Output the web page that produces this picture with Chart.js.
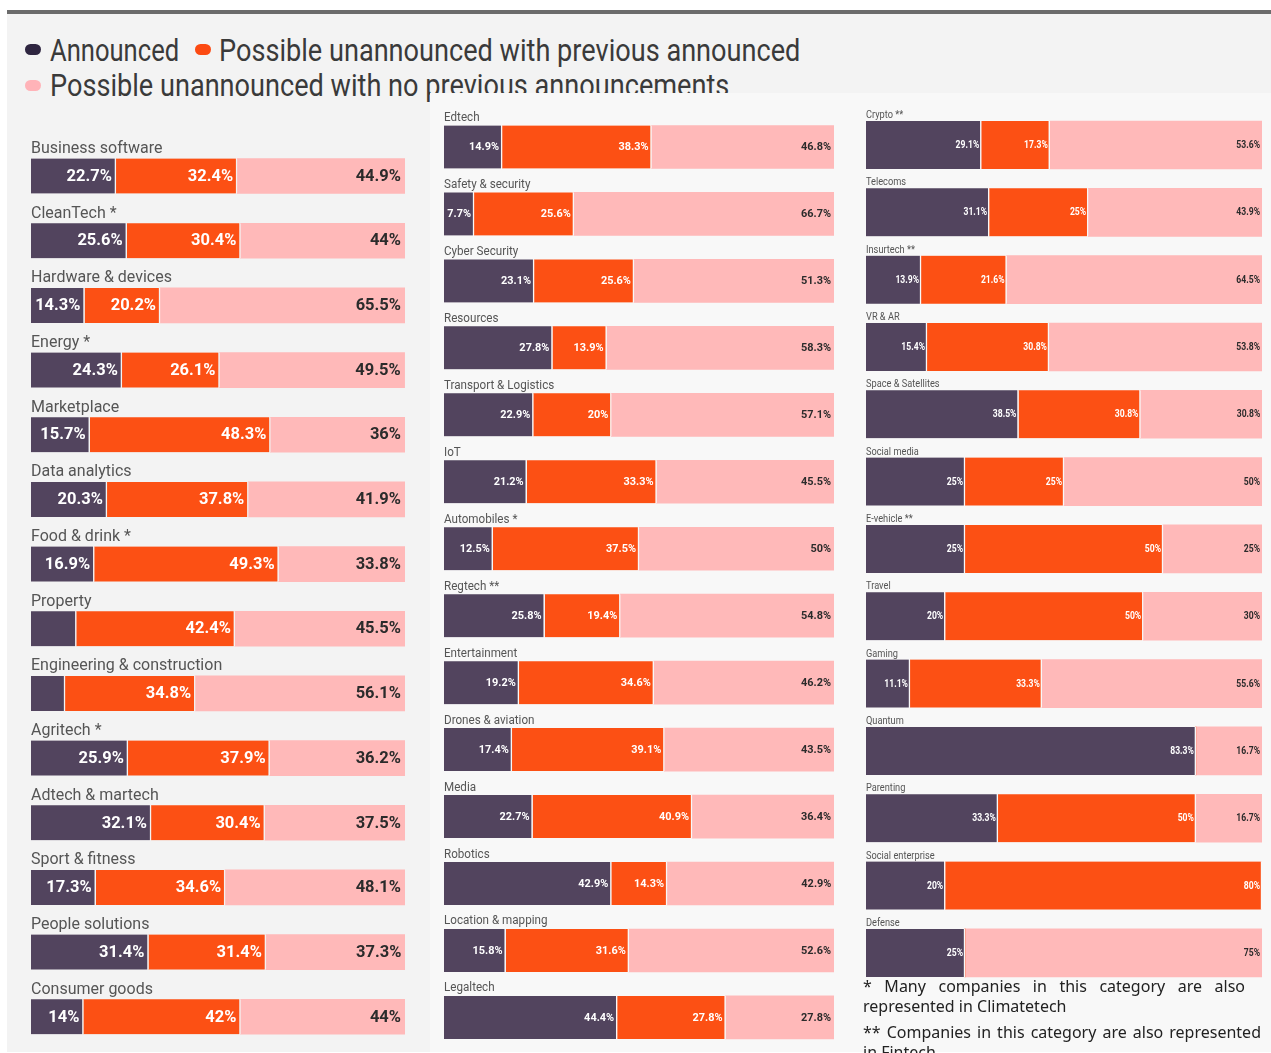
<!DOCTYPE html>
<html>
<head>
<meta charset="utf-8">
<title>Announced vs possible unannounced by category</title>
<script src="https://cdn.jsdelivr.net/npm/chart.js@4.4.1/dist/chart.umd.min.js"></script>
<style>
  html, body { margin: 0; padding: 0; background: #fff; width: 1271px; height: 1053px; overflow: hidden; }
  #panel { position: absolute; left: 7px; top: 10px; width: 1264px; height: 1042px; background: #f3f3f3; border-top: 4px solid #6b6b6b; box-sizing: border-box; }
  #panelRight { position: absolute; left: 430px; top: 93px; width: 841px; height: 959px; background: #f8f8f8; }
  .legend-text { position: absolute; font-family: Roboto, sans-serif; font-size: 31px; line-height: 31px; color: #3a3a3a; white-space: nowrap; transform: scaleX(0.875); transform-origin: left top; }
  .pill { position: absolute; width: 16px; height: 11px; border-radius: 6px; }
  canvas { position: absolute; }
  .note { position: absolute; left: 863px; font-family: "Noto Sans", sans-serif; font-size: 16px; line-height: 20px; color: #222; text-align: justify; margin: 0; }
</style>
</head>
<body>
<div id="panel"></div>

<div class="pill" style="left:25px; top:44px; background:#2e2540;"></div>
<div class="legend-text" style="left:50px; top:35px; transform:scaleX(0.825);">Announced</div>
<div class="pill" style="left:195px; top:44px; background:#fc4a12;"></div>
<div class="legend-text" style="left:219px; top:35px;">Possible unannounced with previous announced</div>
<div class="pill" style="left:25px; top:80px; background:#ffb3b8;"></div>
<div class="legend-text" style="left:50px; top:70px;">Possible unannounced with no previous announcements</div>

<div id="panelRight"></div>

<canvas id="col1" width="374" height="953" style="left:31px; top:100px;"></canvas>
<canvas id="col2" width="390" height="953" style="left:444px; top:100px;"></canvas>
<canvas id="col3" width="396" height="890" style="left:866px; top:100px;"></canvas>

<p class="note" style="top:976px; width:382px;">* Many companies in this category are also represented in Climatetech</p>
<p class="note" style="top:1022px; width:398px;">** Companies in this category are also represented in Fintech</p>

<script>
const colors = { announced: '#52445e', previous: '#fc5014', noPrevious: '#ffb9b9' };

// column 1
const col1Labels = ['Business software', 'CleanTech *', 'Hardware & devices', 'Energy *', 'Marketplace', 'Data analytics',
  'Food & drink *', 'Property', 'Engineering & construction', 'Agritech *', 'Adtech & martech', 'Sport & fitness',
  'People solutions', 'Consumer goods'];
const col1Announced  = [22.7, 25.6, 14.3, 24.3, 15.7, 20.3, 16.9, 12.1, 9.1, 25.9, 32.1, 17.3, 31.4, 14];
const col1Previous   = [32.4, 30.4, 20.2, 26.1, 48.3, 37.8, 49.3, 42.4, 34.8, 37.9, 30.4, 34.6, 31.4, 42];
const col1NoPrevious = [44.9, 44, 65.5, 49.5, 36, 41.9, 33.8, 45.5, 56.1, 36.2, 37.5, 48.1, 37.3, 44];

// column 2
const col2Labels = ['Edtech', 'Safety & security', 'Cyber Security', 'Resources', 'Transport & Logistics', 'IoT',
  'Automobiles *', 'Regtech **', 'Entertainment', 'Drones & aviation', 'Media', 'Robotics', 'Location & mapping', 'Legaltech'];
const col2Announced  = [14.9, 7.7, 23.1, 27.8, 22.9, 21.2, 12.5, 25.8, 19.2, 17.4, 22.7, 42.9, 15.8, 44.4];
const col2Previous   = [38.3, 25.6, 25.6, 13.9, 20, 33.3, 37.5, 19.4, 34.6, 39.1, 40.9, 14.3, 31.6, 27.8];
const col2NoPrevious = [46.8, 66.7, 51.3, 58.3, 57.1, 45.5, 50, 54.8, 46.2, 43.5, 36.4, 42.9, 52.6, 27.8];

// column 3
const col3Labels = ['Crypto **', 'Telecoms', 'Insurtech **', 'VR & AR', 'Space & Satellites', 'Social media',
  'E-vehicle **', 'Travel', 'Gaming', 'Quantum', 'Parenting', 'Social enterprise', 'Defense'];
const col3Announced  = [29.1, 31.1, 13.9, 15.4, 38.5, 25, 25, 20, 11.1, 83.3, 33.3, 20, 25];
const col3Previous   = [17.3, 25, 21.6, 30.8, 30.8, 25, 50, 50, 33.3, 0, 50, 80, 0];
const col3NoPrevious = [53.6, 43.9, 64.5, 53.8, 30.8, 50, 25, 30, 55.6, 16.7, 16.7, 0, 75];

// text squeezed horizontally, to mimic the condensed face of the original
function fillScaled(ctx, text, x, y, sx) {
  ctx.save();
  ctx.translate(x, y);
  ctx.scale(sx, 1);
  ctx.fillText(text, 0, 0);
  ctx.restore();
}

// draws category names above bars and value labels inside segments
const barLabels = {
  id: 'barLabels',
  afterDatasetsDraw(chart, args, opts) {
    const ctx = chart.ctx;
    const yScale = chart.scales.y;
    ctx.save();
    ctx.font = opts.nameFont;
    ctx.fillStyle = opts.nameColor;
    ctx.textAlign = 'left';
    ctx.textBaseline = 'alphabetic';
    chart.data.labels.forEach((name, i) => {
      const y = yScale.getPixelForValue(i) - opts.thickness / 2 - opts.nameGap;
      fillScaled(ctx, name, chart.chartArea.left, y, opts.nameStretch);
    });

    ctx.font = opts.valueFont;
    ctx.textAlign = 'right';
    ctx.textBaseline = 'middle';
    chart.data.datasets.forEach((ds, di) => {
      const meta = chart.getDatasetMeta(di);
      meta.data.forEach((bar, i) => {
        const v = ds.data[i];
        if (!v) return;
        const text = v + '%';
        const w = Math.abs(bar.x - bar.base);
        // skip labels that do not fit in their segment
        if (ctx.measureText(text).width * opts.valueStretch + opts.pad + 1 > w) return;
        ctx.fillStyle = di === 2 ? '#2b2b2b' : '#ffffff';
        fillScaled(ctx, text, bar.x - opts.pad, bar.y + 0.5, opts.valueStretch);
      });
    });
    ctx.restore();
  }
};

function makeColumn(id, labels, announced, previous, noPrevious, style) {
  const gap = { top: 0, bottom: 0, left: 0, right: 1.5 };
  new Chart(document.getElementById(id), {
    type: 'bar',
    data: {
      labels: labels,
      datasets: [
        { label: 'Announced', data: announced, backgroundColor: colors.announced, borderColor: style.bg, borderWidth: gap },
        { label: 'Possible unannounced with previous announced', data: previous, backgroundColor: colors.previous, borderColor: style.bg, borderWidth: gap },
        { label: 'Possible unannounced with no previous announcements', data: noPrevious, backgroundColor: colors.noPrevious, borderWidth: 0 }
      ]
    },
    options: {
      indexAxis: 'y',
      responsive: false,
      animation: false,
      layout: { padding: { top: style.padTop, bottom: style.padBottom, left: 0, right: 0 } },
      datasets: { bar: { barThickness: style.thickness, borderSkipped: false } },
      scales: {
        x: { stacked: true, min: 0, max: 100, display: false },
        y: { stacked: true, display: false }
      },
      plugins: {
        legend: { display: false },
        tooltip: { enabled: false },
        barLabels: style
      }
    },
    plugins: [barLabels]
  });
}

makeColumn('col1', col1Labels, col1Announced, col1Previous, col1NoPrevious, {
  bg: '#f3f3f3', thickness: 35, padTop: 43.7, padBottom: 3.9, nameGap: 5.5, pad: 4,
  nameFont: '16.5px Roboto', nameStretch: 0.97, nameColor: '#555',
  valueFont: 'bold 17px Roboto', valueStretch: 0.97
});
makeColumn('col2', col2Labels, col2Announced, col2Previous, col2NoPrevious, {
  bg: '#f8f8f8', thickness: 43, padTop: 13.5, padBottom: 2.1, nameGap: 4.5, pad: 3,
  nameFont: '12px Roboto', nameStretch: 0.97, nameColor: '#555',
  valueFont: 'bold 11.5px Roboto', valueStretch: 0.95
});
makeColumn('col3', col3Labels, col3Announced, col3Previous, col3NoPrevious, {
  bg: '#f8f8f8', thickness: 48, padTop: 11.3, padBottom: 3.4, nameGap: 3, pad: 2,
  nameFont: '11px Roboto', nameStretch: 0.84, nameColor: '#555',
  valueFont: 'bold 10px Roboto', valueStretch: 0.86
});
</script>
</body>
</html>
